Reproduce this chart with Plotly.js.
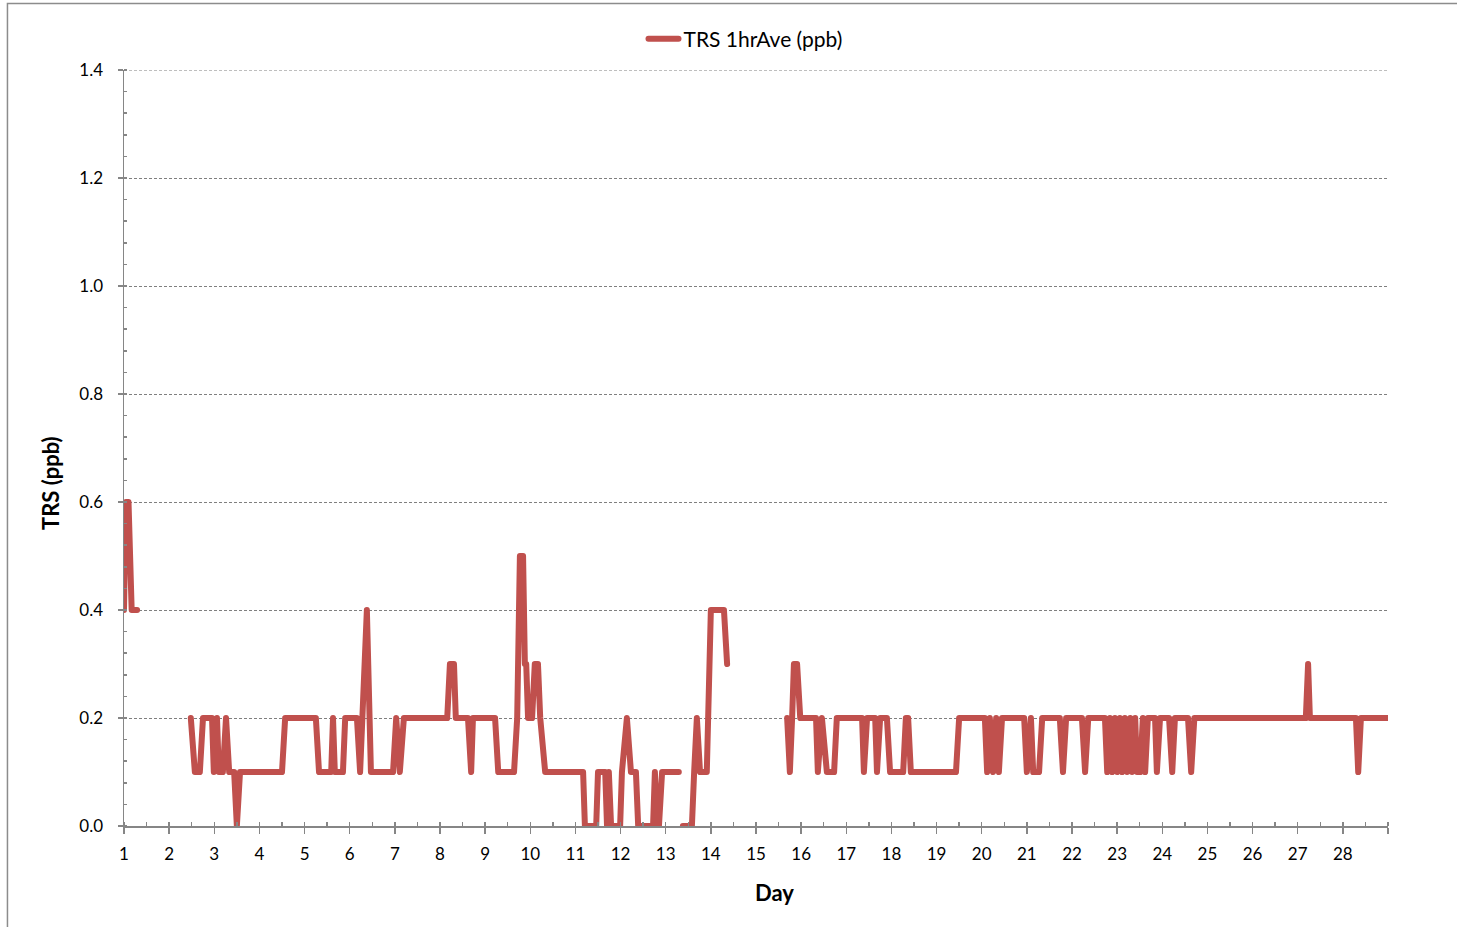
<!DOCTYPE html>
<html>
<head>
<meta charset="utf-8">
<script src="https://cdn.plot.ly/plotly-3.0.1.min.js"></script>
<style>
  html, body { margin: 0; padding: 0; background: #ffffff; }
  #chart { width: 1457px; height: 927px; }
  #chart path.js-line { stroke-linejoin: round !important; stroke-linecap: round !important; }
</style>
</head>
<body>
<div id="chart"></div>
<script>
// Day of month (fractional) at each vertex of the hourly trace; null = missing data
const days = [
  1.00, 1.04, 1.10, 1.17, 1.29, null,
  2.48, 2.57, 2.68, 2.75, 2.95, 2.99, 3.06, 3.10, 3.19, 3.26, 3.33, 3.44, 3.50, 3.57,
  4.50, 4.57, 5.25, 5.32, 5.59, 5.63, 5.67, 5.85, 5.90, 6.16, 6.23, 6.29, 6.38, 6.47,
  6.96, 7.03, 7.11, 7.20, 8.16, 8.22, 8.31, 8.35, 8.62, 8.69, 8.73, 9.22, 9.29, 9.64,
  9.71, 9.77, 9.84, 9.88, 9.91, 9.95, 10.04, 10.10, 10.17, 10.22, 10.33, 11.17, 11.21,
  11.46, 11.50, 11.66, 11.70, 11.74, 11.79, 11.99, 12.03, 12.14, 12.23, 12.34, 12.39,
  12.72, 12.76, 12.81, 12.85, 12.92, 13.29, null,
  13.38, 13.58, 13.63, 13.69, 13.76, 13.91, 14.00, 14.29, 14.36, null,
  15.69, 15.75, 15.80, 15.84, 15.91, 15.98, 16.33, 16.37, 16.46, 16.57, 16.73, 16.79,
  17.35, 17.39, 17.46, 17.64, 17.68, 17.75, 17.90, 17.97, 18.26, 18.32, 18.37, 18.43,
  19.43, 19.50, 20.07, 20.12, 20.18, 20.25, 20.32, 20.38, 20.45, 20.94, 21.00, 21.09,
  21.14, 21.27, 21.34, 21.73, 21.80, 21.87, 22.22, 22.29, 22.36, 22.73, 22.78, 22.84,
  22.89, 22.95, 23.00, 23.06, 23.11, 23.17, 23.22, 23.29, 23.33, 23.40, 23.44, 23.51,
  23.57, 23.62, 23.68, 23.84, 23.88, 23.95, 24.15, 24.22, 24.28, 24.57, 24.64, 24.71,
  27.18, 27.23, 27.27, 28.29, 28.34, 28.40, 29.00
];
// TRS 1-hour average (ppb) at each vertex
const trs = [
  0.4, 0.6, 0.6, 0.4, 0.4, null,
  0.2, 0.1, 0.1, 0.2, 0.2, 0.1, 0.2, 0.1, 0.1, 0.2, 0.1, 0.1, 0.0, 0.1,
  0.1, 0.2, 0.2, 0.1, 0.1, 0.2, 0.1, 0.1, 0.2, 0.2, 0.1, 0.2, 0.4, 0.1,
  0.1, 0.2, 0.1, 0.2, 0.2, 0.3, 0.3, 0.2, 0.2, 0.1, 0.2, 0.2, 0.1, 0.1,
  0.2, 0.5, 0.5, 0.3, 0.3, 0.2, 0.2, 0.3, 0.3, 0.2, 0.1, 0.1, 0.0,
  0.0, 0.1, 0.1, 0.0, 0.1, 0.0, 0.0, 0.1, 0.2, 0.1, 0.1, 0.0,
  0.0, 0.1, 0.0, 0.0, 0.1, 0.1, null,
  0.0, 0.0, 0.1, 0.2, 0.1, 0.1, 0.4, 0.4, 0.3, null,
  0.2, 0.1, 0.2, 0.3, 0.3, 0.2, 0.2, 0.1, 0.2, 0.1, 0.1, 0.2,
  0.2, 0.1, 0.2, 0.2, 0.1, 0.2, 0.2, 0.1, 0.1, 0.2, 0.2, 0.1,
  0.1, 0.2, 0.2, 0.1, 0.2, 0.1, 0.2, 0.1, 0.2, 0.2, 0.1, 0.2,
  0.1, 0.1, 0.2, 0.2, 0.1, 0.2, 0.2, 0.1, 0.2, 0.2, 0.1, 0.2,
  0.1, 0.2, 0.1, 0.2, 0.1, 0.2, 0.1, 0.2, 0.1, 0.2, 0.1, 0.1,
  0.2, 0.1, 0.2, 0.2, 0.1, 0.2, 0.2, 0.1, 0.2, 0.2, 0.1, 0.2,
  0.2, 0.3, 0.2, 0.2, 0.1, 0.2, 0.2
];
const dayTicks = [1,2,3,4,5,6,7,8,9,10,11,12,13,14,15,16,17,18,19,20,21,22,23,24,25,26,27,28,29];
const dayLabels = ['1','2','3','4','5','6','7','8','9','10','11','12','13','14','15','16','17','18','19','20','21','22','23','24','25','26','27','28',''];
const yMax = 1.4;
const seriesName = 'TRS 1hrAve (ppb)';
const xTitle = 'Day';
const yTitle = 'TRS (ppb)';

const FONT = 'Lato, "Open Sans", "Noto Sans", sans-serif';
const AXIS_GRAY = '#868686';
const GRID_GRAY = '#7f7f7f';
const GRID_DASH = '3px,2px';

const trace = {
  x: days, y: trs, type: 'scatter', mode: 'lines', name: seriesName,
  connectgaps: false,
  line: { color: '#C0504D', width: 6, shape: 'linear' }
};

const layout = {
  width: 1457, height: 927,
  margin: { l: 124, r: 69, t: 70, b: 101 },
  paper_bgcolor: '#ffffff', plot_bgcolor: '#ffffff',
  font: { family: FONT, size: 17, color: '#000000' },
  showlegend: true,
  legend: {
    orientation: 'h', x: 0.411, xanchor: 'left', y: 1.041, yanchor: 'middle',
    font: { family: FONT, size: 21, color: '#000000' },
    bgcolor: 'rgba(0,0,0,0)', itemwidth: 30
  },
  xaxis: {
    range: [1, 29], tickmode: 'array', tickvals: dayTicks, ticktext: dayLabels,
    showline: true, linecolor: AXIS_GRAY, linewidth: 1.5,
    ticks: 'outside', ticklen: 6, tickcolor: AXIS_GRAY, tickwidth: 1.5,
    ticklabelstandoff: 6,
    minor: { ticks: 'inside', dtick: 0.5, tick0: 1.5, ticklen: 4, tickcolor: AXIS_GRAY, tickwidth: 1.5, showgrid: false },
    showgrid: false, zeroline: false,
    tickfont: { family: FONT, size: 17, color: '#000000' }
  },
  yaxis: {
    range: [0, yMax], tickmode: 'linear', tick0: 0, dtick: 0.2, tickformat: '.1f',
    showline: true, linecolor: AXIS_GRAY, linewidth: 1.5,
    ticks: 'outside', ticklen: 5, tickcolor: AXIS_GRAY, tickwidth: 1.5,
    ticklabelstandoff: 11,
    minor: { ticks: 'inside', dtick: 0.04, tick0: 0, ticklen: 3, tickcolor: AXIS_GRAY, tickwidth: 1.5, showgrid: false },
    showgrid: true, gridcolor: GRID_GRAY, gridwidth: 1, griddash: GRID_DASH,
    zeroline: false,
    tickfont: { family: FONT, size: 17, color: '#000000' }
  },
  annotations: [
    { text: '<b>' + xTitle + '</b>', xref: 'paper', yref: 'paper', x: 0.515, y: -0.0886,
      xanchor: 'center', yanchor: 'middle', showarrow: false,
      font: { family: FONT, size: 22, color: '#000000' } },
    { text: '<b>' + yTitle + '</b>', xref: 'paper', yref: 'paper', x: -0.0585, y: 0.4537,
      xanchor: 'center', yanchor: 'middle', showarrow: false, textangle: -90,
      font: { family: FONT, size: 22, color: '#000000' } }
  ],
  shapes: [
    { type: 'rect', xref: 'paper', yref: 'paper', x0: -0.0922, x1: 1.2, y0: -0.2, y1: 1.088,
      line: { color: '#8c8c8c', width: 1.5 }, fillcolor: 'rgba(0,0,0,0)', layer: 'below' },
    { type: 'line', xref: 'paper', yref: 'y', x0: 0, x1: 1, y0: yMax, y1: yMax,
      line: { color: GRID_GRAY, width: 1, dash: GRID_DASH }, layer: 'below' }
  ]
};

Plotly.newPlot('chart', [trace], layout, { displayModeBar: false, staticPlot: true });
</script>
</body>
</html>
